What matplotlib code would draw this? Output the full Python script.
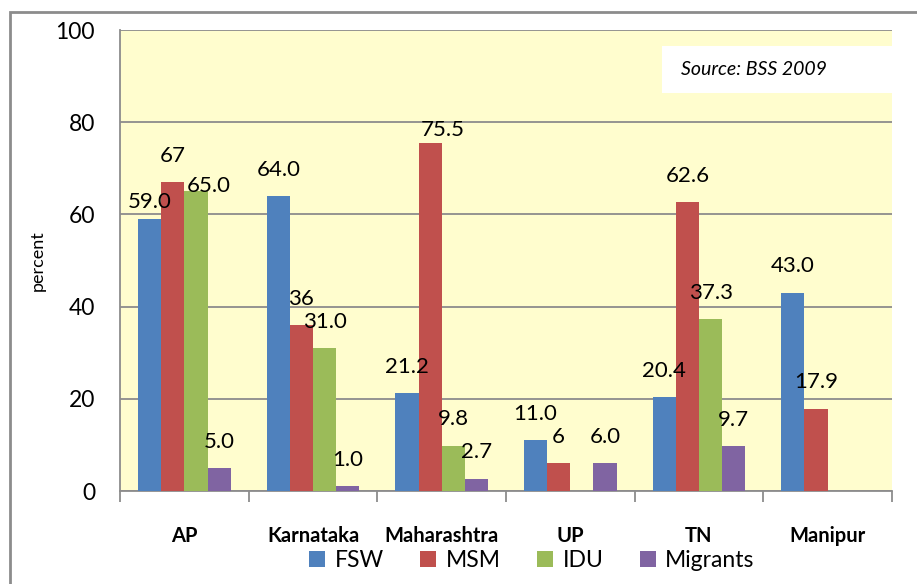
import numpy as np
import matplotlib.pyplot as plt
from matplotlib.patches import Rectangle

states = ["AP", "Karnataka", "Maharashtra", "UP", "TN", "Manipur"]
fsw = [59.0, 64.0, 21.2, 11.0, 20.4, 43.0]
msm = [67, 36, 75.5, 6, 62.6, 17.9]
idu = [65.0, 31.0, 9.8, np.nan, 37.3, np.nan]
migrants = [5.0, 1.0, 2.7, 6.0, 9.7, np.nan]

msm_labels = ["67", "36", "75.5", "6", "62.6", "17.9"]

series = [("FSW", fsw, "#4F81BD"), ("MSM", msm, "#C0504D"),
          ("IDU", idu, "#9BBB59"), ("Migrants", migrants, "#8064A2")]

# a few labels were nudged by hand in the original (series, state): (dx, dy) in points
label_nudge = {("FSW", 0): (0, 12), ("IDU", 0): (9, 4), ("MSM", 2): (9, 9)}

plt.rcParams['font.family'] = ['Lato', 'DejaVu Sans']

fig = plt.figure(figsize=(9.17, 5.84), dpi=100)
ax = fig.add_axes([0.1309, 0.1592, 0.8418, 0.7894])
ax.set_facecolor("#FFFDCE")

# outer chart border
fig.patches.append(Rectangle((10 / 917, -0.05), 1.0, 1 - 12 / 584 + 0.05,
                             transform=fig.transFigure, fill=False,
                             edgecolor="#8c8c8c", linewidth=2))

x = np.arange(len(states))
w = 0.18
for i, (name, vals, color) in enumerate(series):
    pos = x + (i - 1.5) * w
    bars = ax.bar(pos, vals, w, color=color, label=name, zorder=3)
    for j, (b, v) in enumerate(zip(bars, vals)):
        if np.isnan(v):
            continue
        txt = msm_labels[j] if name == "MSM" else f"{v:.1f}"
        dx, dy = label_nudge.get((name, j), (0, 19))
        ax.annotate(txt, (b.get_x() + b.get_width() / 2, v),
                    xytext=(dx, dy), textcoords="offset points",
                    ha="center", va="center", fontsize=16, zorder=4)

ax.set_xlim(-0.5, len(states) - 0.5)
ax.set_ylim(0, 100)
ax.set_yticks([0, 20, 40, 60, 80, 100])
ax.tick_params(axis="y", length=0, labelsize=16.5, pad=18)
ax.yaxis.grid(True, color="#8c8c8c", linewidth=1.3, zorder=0)
ax.set_ylabel("percent", fontsize=13, labelpad=7)

ax.set_xticks(x)
ax.set_xticklabels(states, fontsize=14.5, fontweight="bold")
ax.tick_params(axis="x", length=0, pad=25)
ax.set_xticks(np.arange(len(states) + 1) - 0.5, minor=True)
ax.tick_params(axis="x", which="minor", length=8, color="#8c8c8c", width=1.3)

for side in ["top", "right"]:
    ax.spines[side].set_visible(False)
ax.spines["left"].set_color("#8c8c8c")
ax.spines["bottom"].set_color("#8c8c8c")
ax.spines["left"].set_linewidth(1.3)
ax.spines["bottom"].set_linewidth(1.3)

# source box
ax.text(0.727, 0.915, "Source: BSS 2009", transform=ax.transAxes,
        fontsize=14, style="italic", va="center", ha="left", zorder=5)
ax.add_patch(Rectangle((0.702, 0.863), 0.298, 0.102, transform=ax.transAxes,
                       facecolor="white", edgecolor="none", zorder=4))

fig.legend(loc="center", bbox_to_anchor=(0.58, 0.04), ncol=4, frameon=False,
           fontsize=16.5, handlelength=0.7, handleheight=0.7, columnspacing=1.6,
           handletextpad=0.4)

fig.savefig("out.png", dpi=100)
